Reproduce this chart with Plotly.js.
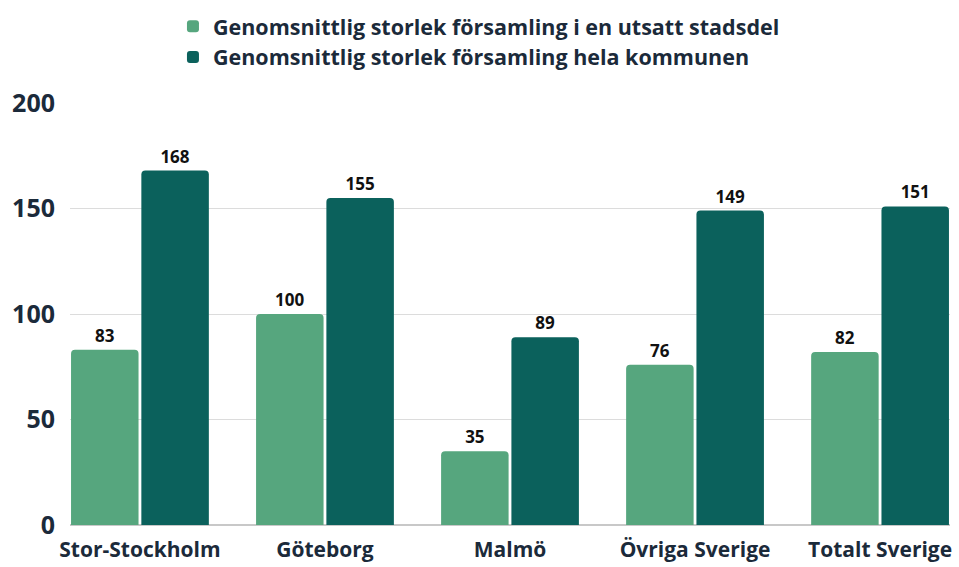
<!DOCTYPE html>
<html>
<head>
<meta charset="utf-8">
<script src="https://cdn.plot.ly/plotly-3.0.1.min.js"></script>
<style>
  html, body { margin: 0; padding: 0; background: #fff; }
  #chart { width: 959px; height: 567px; }
</style>
</head>
<body>
<div id="chart"></div>
<script>
const categories = ['Stor-Stockholm', 'Göteborg', 'Malmö', 'Övriga Sverige', 'Totalt Sverige'];
const seriesNames = [
  'Genomsnittlig storlek församling i en utsatt stadsdel',
  'Genomsnittlig storlek församling hela kommunen',
];
const utsattValues = [83, 100, 35, 76, 82];
const kommunValues = [168, 155, 89, 149, 151];
const yTicks = [0, 50, 100, 150, 200];

const FONT = '"Open Sans", "Noto Sans", sans-serif';
const TEXT_COLOR = '#1b2a3a';
const COLORS = ['#56a67e', '#0b615c'];

function barTrace(name, values, color) {
  return {
    type: 'bar',
    name,
    x: categories,
    y: values,
    marker: { color },
    text: values.map(String),
    textposition: 'outside',
    textfont: { family: FONT, size: 17, color: '#111', weight: 700 },
    cliponaxis: false,
    hoverinfo: 'skip',
  };
}

const traces = [
  barTrace(seriesNames[0], utsattValues, COLORS[0]),
  barTrace(seriesNames[1], kommunValues, COLORS[1]),
];

const layout = {
  width: 959,
  height: 567,
  margin: { l: 70, r: 9, t: 103, b: 42 },
  paper_bgcolor: 'white',
  plot_bgcolor: 'white',
  font: { family: FONT, color: TEXT_COLOR },
  barmode: 'group',
  bargap: 0.24,
  bargroupgap: 0.04,
  barcornerradius: 4,
  showlegend: true,
  legend: {
    orientation: 'v',
    x: 0.117, xanchor: 'left',
    y: 0.99, yanchor: 'top',
    yref: 'container',
    font: { family: FONT, size: 21.5, color: TEXT_COLOR, weight: 700 },
    itemwidth: 30,
    tracegroupgap: 0,
  },
  xaxis: {
    type: 'category',
    range: [-0.378, 4.378],
    showgrid: false,
    showline: false,
    ticks: '',
    tickfont: { family: FONT, size: 21, color: TEXT_COLOR, weight: 700 },
    ticklabelstandoff: 10,
    fixedrange: true,
  },
  yaxis: {
    range: [0, 200],
    tickvals: yTicks,
    showgrid: true,
    gridcolor: '#dcdcdc',
    gridwidth: 1,
    zeroline: true,
    zerolinecolor: '#c8c8c8',
    zerolinewidth: 1.5,
    ticks: '',
    tickfont: { family: FONT, size: 25, color: TEXT_COLOR, weight: 700 },
    ticklabelstandoff: 14,
    fixedrange: true,
  },
};

Plotly.newPlot('chart', traces, layout, { displayModeBar: false, staticPlot: true });
</script>
</body>
</html>
